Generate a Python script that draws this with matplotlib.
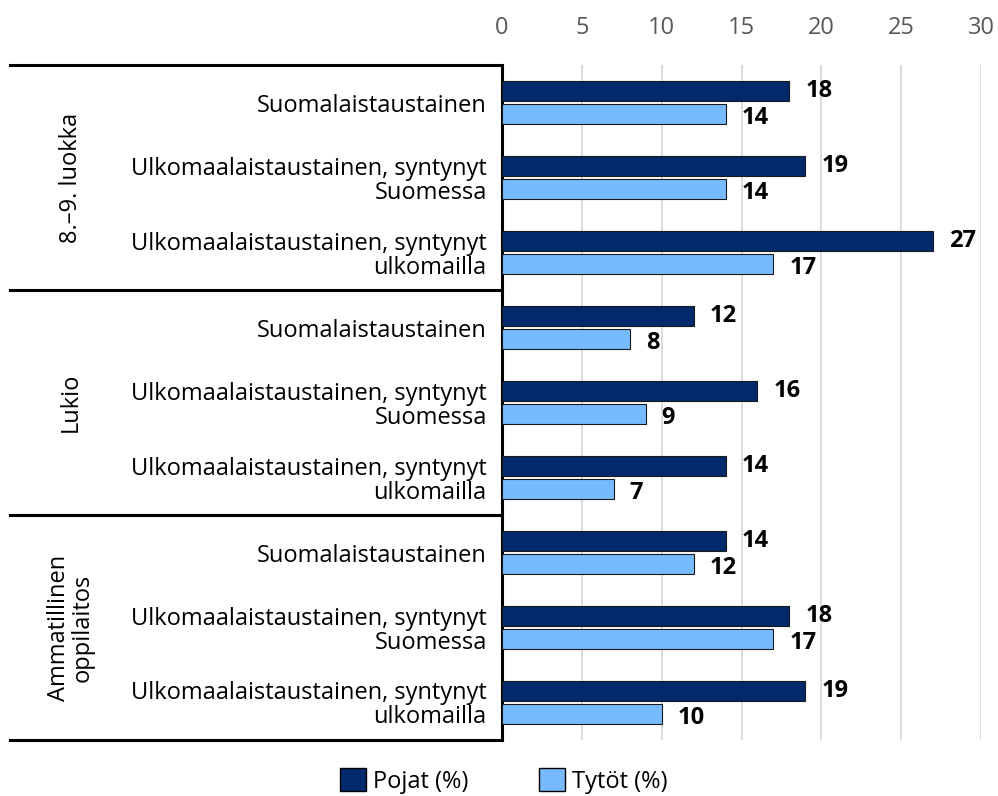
import numpy as np
import matplotlib.pyplot as plt
from matplotlib.lines import Line2D
from matplotlib.patches import Patch

plt.rcParams['font.family'] = ['Open Sans', 'DejaVu Sans']

# DATA
groups = ['8.–9. luokka', 'Lukio', 'Ammatillinen\noppilaitos']
categories = ['Suomalaistaustainen',
              'Ulkomaalaistaustainen, syntynyt\nSuomessa',
              'Ulkomaalaistaustainen, syntynyt\nulkomailla']
pojat = [18, 19, 27, 12, 16, 14, 14, 18, 19]
tytot = [14, 14, 17, 8, 9, 7, 12, 17, 10]
xticks = [0, 5, 10, 15, 20, 25, 30]

dark = '#002a6b'
light = '#78baff'
fs = 17

fig = plt.figure(figsize=(9.98, 7.96), dpi=100)
ax = fig.add_axes([0.503, 0.0704, 0.48, 0.8476])

n = len(pojat)
y = np.arange(n)
h = 0.27
off = 0.155

ax.barh(y - off, pojat, height=h, color=dark, edgecolor='#1a1a1a', linewidth=0.8, zorder=3)
ax.barh(y + off, tytot, height=h, color=light, edgecolor='#1a1a1a', linewidth=0.8, zorder=3)

for yi, v in zip(y, pojat):
    ax.text(v + 1.0, yi - off, str(v), va='center', ha='left', fontsize=fs, fontweight='bold', color='black')
for yi, v in zip(y, tytot):
    ax.text(v + 1.0, yi + off + 0.05, str(v), va='center', ha='left', fontsize=fs, fontweight='bold', color='black')

ax.set_xlim(0, 30)
ax.set_ylim(n - 0.5, -0.5)
ax.set_xticks(xticks)
ax.xaxis.tick_top()
ax.tick_params(axis='x', length=0, pad=18, labelsize=fs, labelcolor='#595959')
ax.set_yticks(y)
ax.set_yticklabels([categories[i % 3] for i in range(n)], fontsize=fs, linespacing=1.0)
ax.tick_params(axis='y', length=0, pad=11)
ax.grid(axis='x', color='#d9d9d9', linewidth=1.3, zorder=0)

for s in ['top', 'right', 'bottom']:
    ax.spines[s].set_visible(False)
ax.spines['left'].set_linewidth(2.2)
ax.spines['left'].set_color('black')

# group separators and labels
x_left = -1.027
for k in range(4):
    yy = k * 3 - 0.5
    ax.add_line(Line2D([x_left * 30, 0], [yy, yy], color='black', linewidth=2.2, clip_on=False,
                       transform=ax.transData))
for k, g in enumerate(groups):
    ax.text(-27.0, k * 3 + 1, g, rotation=90, ha='center', va='center', fontsize=fs,
            linespacing=1.0, clip_on=False)

handles = [Patch(facecolor=dark, edgecolor='black', label='Pojat (%)'),
           Patch(facecolor=light, edgecolor='black', label='Tytöt (%)')]
fig.legend(handles=handles, loc='lower center', ncol=2, frameon=False, fontsize=fs,
           bbox_to_anchor=(0.505, -0.024), handlelength=1.1, handleheight=1.1,
           handletextpad=0.3, columnspacing=3.0)

fig.savefig('out.png', dpi=100)
